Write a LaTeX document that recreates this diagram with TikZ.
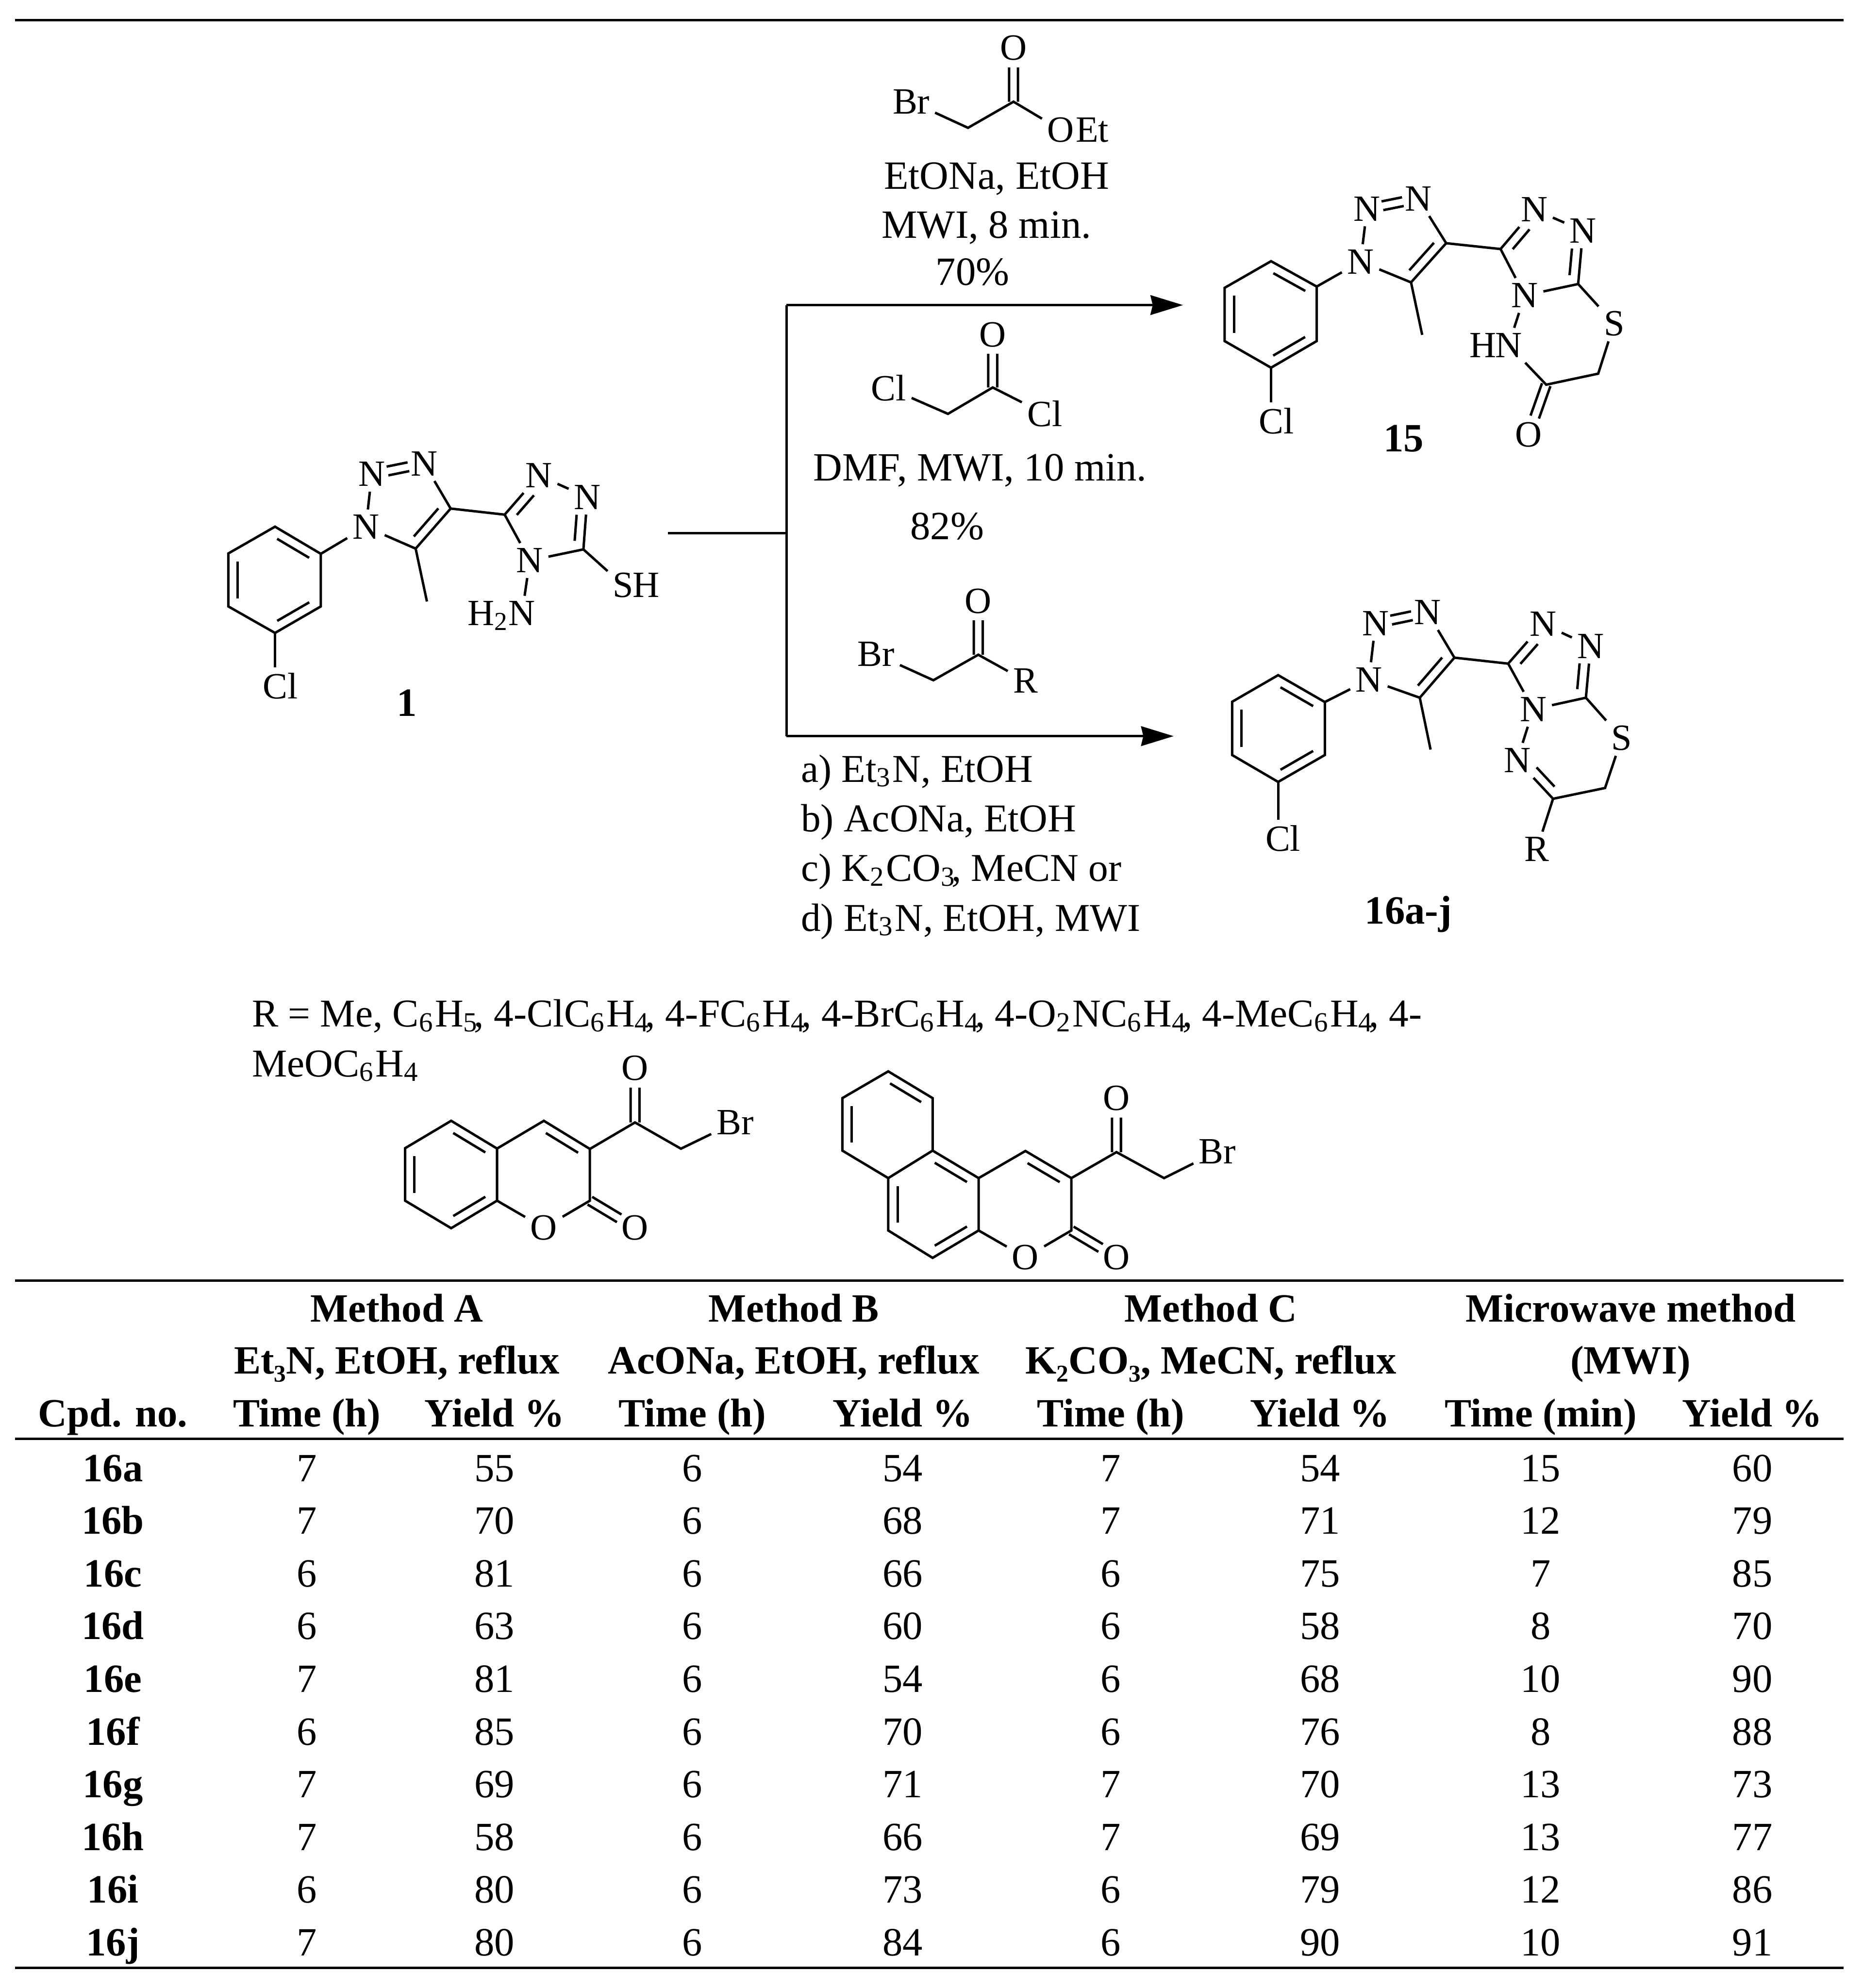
\documentclass[tikz,border=0pt]{standalone}
\usepackage{fontspec}
\setmainfont{Liberation Serif}
\usetikzlibrary{calc}
\usetikzlibrary{arrows.meta}
\tikzset{
  bond/.style={line width=.55pt},
  rulel/.style={line width=.55pt},
  arrowl/.style={line width=.55pt, -{Stealth[length=7.3pt,width=4.4pt,inset=.5pt]}},
  atom/.style={inner sep=1pt, font=\fontsize{8.3}{10}\selectfont},
  tail/.style={inner sep=0pt, font=\fontsize{8.3}{10}\selectfont},
  txt/.style={inner sep=0pt, anchor=base, font=\fontsize{9}{11}\selectfont},
  txtl/.style={inner sep=0pt, anchor=base west, font=\fontsize{8.85}{11}\selectfont},
  head/.style={inner sep=0pt, anchor=base, font=\fontsize{9}{11}\selectfont\bfseries}
}
\newcommand{\dblin}[4]{\draw[bond] ($(#1)!#3!(#2)!2.1pt!90:(#2)$) -- ($(#2)!#4!(#1)!2.1pt!-90:(#1)$);}
\newcommand{\dblout}[4]{%
  \draw[bond] ($(#1)!#3!(#2)!1pt!90:(#2)$) -- ($(#2)!#4!(#1)!1pt!-90:(#1)$);
  \draw[bond] ($(#1)!#3!(#2)!1pt!-90:(#2)$) -- ($(#2)!#4!(#1)!1pt!90:(#1)$);}
\begin{document}
\begin{tikzpicture}[x=0.01cm,y=-0.01cm]
  \useasboundingbox (0,0) rectangle (1469,1568);

  % top rule
  \coordinate (top1) at (12,16);
  \coordinate (top2) at (1454,16);
  \draw[rulel] (top1) -- (top2);

  % compound 1
  \coordinate (a1) at (216.9,415.4);
  \coordinate (a2) at (180.1,436.5);
  \coordinate (a3) at (180.1,478.3);
  \coordinate (a4) at (216.9,499.2);
  \coordinate (a5) at (253,478.3);
  \coordinate (a6) at (253,436.8);
  \node[atom] (acl) at (221,541) {Cl};
  \node[atom] (an1) at (288.6,415.6) {N};
  \node[atom] (an2) at (293.2,374) {N};
  \node[atom] (an3) at (334.5,365.6) {N};
  \coordinate (ac4) at (355.4,401.1);
  \coordinate (ac5) at (327.8,432.7);
  \coordinate (ame) at (336.7,474.4);
  \coordinate (ac6) at (398,405.9);
  \node[atom] (an4) at (424.9,375) {N};
  \node[atom] (an5) at (463.2,392.1) {N};
  \coordinate (ac7) at (460.1,433.3);
  \node[atom] (an6) at (417.8,442.1) {N};
  \node[atom] (as) at (491.5,461.5) {S};
  \node[tail,anchor=base west,xshift=-1.6pt] (ash) at (as.base east) {H};
  \node[atom] (an7) at (411.7,483.7) {N};
  \node[tail,anchor=base east,xshift=1.6pt] (ah2) at (an7.base west) {H\textsubscript{2}};
  \node[head] (alab) at (321,565) {1};

  \draw[bond] (a1) -- (a2) -- (a3) -- (a4) -- (a5) -- (a6) -- cycle;
  \dblin{a6}{a1}{.15}{.15}
  \dblin{a2}{a3}{.15}{.15}
  \dblin{a4}{a5}{.15}{.15}
  \draw[bond] (a4) -- (a4 |- acl.north);
  \draw[bond] (a6) -- (an1);
  \draw[bond] (an1) -- (an2);
  \dblout{an2}{an3}{.3}{.3}
  \draw[bond] (an3) -- (ac4);
  \draw[bond] (ac4) -- (ac5);
  \dblin{ac5}{ac4}{.15}{.15}
  \draw[bond] (ac5) -- (an1);
  \draw[bond] (ac5) -- (ame);
  \draw[bond] (ac4) -- (ac6);
  \draw[bond] (ac6) -- (an4);
  \dblin{an4}{ac6}{.35}{.15}
  \draw[bond] (an4) -- (an5);
  \draw[bond] (an5) -- (ac7);
  \dblin{ac7}{an5}{.15}{.35}
  \draw[bond] (ac7) -- (an6);
  \draw[bond] (an6) -- (ac6);
  \draw[bond] (ac7) -- (as);
  \draw[bond] (an6) -- (an7);

  % reaction lines
  \coordinate (s1) at (526.6,420.4);
  \coordinate (s2) at (620.2,420.4);
  \coordinate (s3) at (620.2,240.6);
  \coordinate (s4) at (620.2,580.6);
  \coordinate (s5) at (933,240.6);
  \coordinate (s6) at (925.6,580.6);
  \draw[bond] (s1) -- (s2);
  \draw[bond] (s3) -- (s4);
  \draw[arrowl] (s3) -- (s5);
  \draw[arrowl] (s4) -- (s6);

  % bromoacetate
  \node[atom] (do) at (799.3,37.9) {O};
  \coordinate (dc) at (799.3,80.2);
  \coordinate (dm) at (763.4,100.8);
  \node[atom] (dbr) at (718.6,80.2) {Br};
  \node[atom] (do2) at (836.5,102.4) {O};
  \node[tail,anchor=base west,xshift=-1pt] (det) at (do2.base east) {Et};
  \draw[bond] (dbr) -- (dm) -- (dc) -- (do2);
  \dblout{dc}{do}{0}{.36}
  \node[txt] (dt1) at (786,149) {EtONa, EtOH};
  \node[txt] (dt2) at (778,187.7) {MWI, 8 min.};
  \node[txt] (dt3) at (767,224.8) {70\%};

  % chloroacetyl chloride
  \node[atom] (eo) at (782.9,264) {O};
  \coordinate (ec) at (782.9,305.6);
  \coordinate (em) at (747.6,326.4);
  \node[atom] (ecl) at (700.9,306) {Cl};
  \node[atom] (ecl2) at (823.9,326.4) {Cl};
  \draw[bond] (ecl) -- (em) -- (ec) -- (ecl2);
  \dblout{ec}{eo}{0}{.36}
  \node[txt] (et1) at (773,379.3) {DMF, MWI, 10 min.};
  \node[txt] (et2) at (747,425.5) {82\%};

  % bromoketone
  \node[atom] (fo) at (771.5,474) {O};
  \coordinate (fc) at (771.5,516.4);
  \coordinate (fm) at (736.1,536.5);
  \node[atom] (fbr) at (690.9,516) {Br};
  \node[atom] (fr) at (808.7,537) {R};
  \draw[bond] (fbr) -- (fm) -- (fc) -- (fr);
  \dblout{fc}{fo}{0}{.36}
  \node[txtl] (ft1) at (631,616.7) {a) Et\textsubscript{3}N, EtOH};
  \node[txtl] (ft2) at (631,655.9) {b) AcONa, EtOH};
  \node[txtl] (ft3) at (631,695.1) {c) K\textsubscript{2}CO\textsubscript{3}\kern-1.2pt, MeCN or};
  \node[txtl] (ft4) at (631,734.3) {d) Et\textsubscript{3}N, EtOH, MWI};

  % compound 15
  \coordinate (b1) at (1002.4,206);
  \coordinate (b2) at (965.8,227);
  \coordinate (b3) at (965.8,269);
  \coordinate (b4) at (1002.4,290);
  \coordinate (b5) at (1038.4,269);
  \coordinate (b6) at (1038.4,226);
  \node[atom] (bcl) at (1006.8,331.9) {Cl};
  \node[atom] (bn1) at (1073,206.4) {N};
  \node[atom] (bn2) at (1078.1,164.7) {N};
  \node[atom] (bn3) at (1118.5,156.6) {N};
  \coordinate (bc4) at (1140.5,191.8);
  \coordinate (bc5) at (1112.8,222.7);
  \coordinate (bme) at (1121.6,264.1);
  \coordinate (bc6) at (1183.4,196.4);
  \node[atom] (bn4) at (1209.9,165.2) {N};
  \node[atom] (bn5) at (1248.4,182) {N};
  \coordinate (bc7) at (1244.6,224);
  \node[atom] (bn6) at (1202.4,233) {N};
  \node[atom] (bs) at (1273,255.2) {S};
  \coordinate (bc8) at (1260.4,294.7);
  \coordinate (bc9) at (1219.4,303.4);
  \node[atom] (bo) at (1205.5,342.7) {O};
  \node[atom] (bn7) at (1189.7,272.3) {N};
  \node[tail,anchor=base east,xshift=1.6pt] (bh) at (bn7.base west) {H};
  \node[head] (blab) at (1107,356.2) {15};

  \draw[bond] (b1) -- (b2) -- (b3) -- (b4) -- (b5) -- (b6) -- cycle;
  \dblin{b6}{b1}{.15}{.15}
  \dblin{b2}{b3}{.15}{.15}
  \dblin{b4}{b5}{.15}{.15}
  \draw[bond] (b4) -- (b4 |- bcl.north);
  \draw[bond] (b6) -- (bn1);
  \draw[bond] (bn1) -- (bn2);
  \dblout{bn2}{bn3}{.3}{.3}
  \draw[bond] (bn3) -- (bc4);
  \draw[bond] (bc4) -- (bc5);
  \dblin{bc5}{bc4}{.15}{.15}
  \draw[bond] (bc5) -- (bn1);
  \draw[bond] (bc5) -- (bme);
  \draw[bond] (bc4) -- (bc6);
  \draw[bond] (bc6) -- (bn4);
  \dblin{bn4}{bc6}{.35}{.15}
  \draw[bond] (bn4) -- (bn5);
  \draw[bond] (bn5) -- (bc7);
  \dblin{bc7}{bn5}{.15}{.35}
  \draw[bond] (bc7) -- (bn6);
  \draw[bond] (bn6) -- (bc6);
  \draw[bond] (bc7) -- (bs);
  \draw[bond] (bs) -- (bc8) -- (bc9) -- (bn7);
  \draw[bond] (bn7) -- (bn6);
  \dblout{bc9}{bo}{0}{.35}

  % compound 16
  \coordinate (c1) at (1008,532.5);
  \coordinate (c2) at (971.7,553.5);
  \coordinate (c3) at (971.7,595.5);
  \coordinate (c4) at (1008,616.7);
  \coordinate (c5) at (1044.8,595.5);
  \coordinate (c6) at (1044.8,553.7);
  \node[atom] (ccl) at (1011.8,661.2) {Cl};
  \node[atom] (cn1) at (1079.6,536.1) {N};
  \node[atom] (cn2) at (1084.8,491.6) {N};
  \node[atom] (cn3) at (1125.8,483.1) {N};
  \coordinate (cc4) at (1147,518.7);
  \coordinate (cc5) at (1119.7,550.3);
  \coordinate (cme) at (1128.2,591.2);
  \coordinate (cc6) at (1189.4,523.4);
  \node[atom] (cn4) at (1216.8,492.2) {N};
  \node[atom] (cn5) at (1254.4,509.6) {N};
  \coordinate (cc7) at (1250.7,550.3);
  \node[atom] (cn6) at (1209.2,559.4) {N};
  \node[atom] (cs) at (1279,582.1) {S};
  \coordinate (cc8) at (1265.8,621.5);
  \coordinate (cc9) at (1224.8,630);
  \node[atom] (cn7) at (1196.5,599.7) {N};
  \node[atom] (cr) at (1212,669.7) {R};
  \node[head] (clab) at (1110.7,728.5) {16a-j};

  \draw[bond] (c1) -- (c2) -- (c3) -- (c4) -- (c5) -- (c6) -- cycle;
  \dblin{c6}{c1}{.15}{.15}
  \dblin{c2}{c3}{.15}{.15}
  \dblin{c4}{c5}{.15}{.15}
  \draw[bond] (c4) -- (c4 |- ccl.north);
  \draw[bond] (c6) -- (cn1);
  \draw[bond] (cn1) -- (cn2);
  \dblout{cn2}{cn3}{.3}{.3}
  \draw[bond] (cn3) -- (cc4);
  \draw[bond] (cc4) -- (cc5);
  \dblin{cc5}{cc4}{.15}{.15}
  \draw[bond] (cc5) -- (cn1);
  \draw[bond] (cc5) -- (cme);
  \draw[bond] (cc4) -- (cc6);
  \draw[bond] (cc6) -- (cn4);
  \dblin{cn4}{cc6}{.35}{.15}
  \draw[bond] (cn4) -- (cn5);
  \draw[bond] (cn5) -- (cc7);
  \dblin{cc7}{cn5}{.15}{.35}
  \draw[bond] (cc7) -- (cn6);
  \draw[bond] (cn6) -- (cc6);
  \draw[bond] (cc7) -- (cs);
  \draw[bond] (cs) -- (cc8) -- (cc9) -- (cn7);
  \draw[bond] (cn7) -- (cn6);
  \dblin{cn7}{cc9}{.35}{.15}
  \draw[bond] (cc9) -- (cr);

  % R groups
  \node[txtl] (rl1) at (198,810) {R = Me, C\textsubscript{6}H\textsubscript{5}\kern-1.2pt, 4-ClC\textsubscript{6}H\textsubscript{4}\kern-1.2pt, 4-FC\textsubscript{6}H\textsubscript{4}\kern-1.2pt, 4-BrC\textsubscript{6}H\textsubscript{4}\kern-1.2pt, 4-O\textsubscript{2}NC\textsubscript{6}H\textsubscript{4}\kern-1.2pt, 4-MeC\textsubscript{6}H\textsubscript{4}\kern-1.2pt, 4-};
  \node[txtl] (rl2) at (198,849.3) {MeOC\textsubscript{6}H\textsubscript{4}};

  % bromoacetylcoumarin
  \coordinate (g1) at (355.8,884);
  \coordinate (g2) at (319.5,905.6);
  \coordinate (g3) at (319.5,947);
  \coordinate (g4) at (355.8,968.7);
  \coordinate (g5) at (392,947);
  \coordinate (g6) at (392,905.9);
  \coordinate (g7) at (428.9,884);
  \coordinate (g8) at (465.2,906.2);
  \coordinate (g9) at (465.2,947);
  \node[atom] (go1) at (428.9,968.4) {O};
  \node[atom] (go2) at (500.8,968.4) {O};
  \coordinate (g10) at (500.8,885.3);
  \node[atom] (go3) at (500.8,842.4) {O};
  \coordinate (g11) at (537,906);
  \node[atom] (gbr) at (579.7,885.3) {Br};

  \draw[bond] (g1) -- (g2) -- (g3) -- (g4) -- (g5) -- (g6) -- cycle;
  \dblin{g6}{g1}{.15}{.15}
  \dblin{g2}{g3}{.15}{.15}
  \dblin{g4}{g5}{.15}{.15}
  \draw[bond] (g6) -- (g7) -- (g8) -- (g9) -- (go1) -- (g5);
  \dblin{g8}{g7}{.15}{.15}
  \dblout{g9}{go2}{0}{.35}
  \draw[bond] (g8) -- (g10) -- (g11) -- (gbr);
  \dblout{g10}{go3}{0}{.36}

  % bromoacetylbenzocoumarin
  \coordinate (h1) at (700.5,845);
  \coordinate (h2) at (664.3,866.1);
  \coordinate (h3) at (664.3,907.5);
  \coordinate (h4) at (700.5,929.2);
  \coordinate (h5) at (735.5,907.5);
  \coordinate (h6) at (735.5,866.1);
  \coordinate (h7) at (700.5,970.5);
  \coordinate (h8) at (735.5,992.1);
  \coordinate (h9) at (771.8,970.5);
  \coordinate (h10) at (771.8,929.2);
  \coordinate (h11) at (808.7,907.8);
  \coordinate (h12) at (844.9,929.2);
  \coordinate (h13) at (844.9,970.5);
  \node[atom] (ho1) at (808.7,991.7) {O};
  \node[atom] (ho2) at (880.5,991.7) {O};
  \coordinate (h14) at (880.5,908.7);
  \node[atom] (ho3) at (880.5,866.1) {O};
  \coordinate (h15) at (918,929.2);
  \node[atom] (hbr) at (960,908.2) {Br};

  \draw[bond] (h1) -- (h2) -- (h3) -- (h4) -- (h5) -- (h6) -- cycle;
  \dblin{h6}{h1}{.15}{.15}
  \dblin{h2}{h3}{.15}{.15}
  \draw[bond] (h4) -- (h7) -- (h8) -- (h9) -- (h10) -- (h5);
  \dblin{h10}{h5}{.15}{.15}
  \dblin{h4}{h7}{.15}{.15}
  \dblin{h8}{h9}{.15}{.15}
  \draw[bond] (h10) -- (h11) -- (h12) -- (h13) -- (ho1) -- (h9);
  \dblin{h12}{h11}{.15}{.15}
  \dblout{h13}{ho2}{0}{.35}
  \draw[bond] (h12) -- (h14) -- (h15) -- (hbr);
  \dblout{h14}{ho3}{0}{.36}

  % table rules
  \coordinate (ru1) at (12,1010);
  \coordinate (ru2) at (1454,1010);
  \coordinate (ru3) at (12,1135);
  \coordinate (ru4) at (1454,1135);
  \coordinate (ru5) at (12,1552);
  \coordinate (ru6) at (1454,1552);
  \draw[rulel] (ru1) -- (ru2);
  \draw[rulel] (ru3) -- (ru4);
  \draw[rulel] (ru5) -- (ru6);

  % table head
  \node[head] (m1) at (313,1042.6) {Method A};
  \node[head] (m2) at (626,1042.6) {Method B};
  \node[head] (m3) at (955,1042.6) {Method C};
  \node[head] (m4) at (1286,1042.6) {Microwave method};
  \node[head] (n1) at (313,1083.7) {Et₃N, EtOH, reflux};
  \node[head] (n2) at (626,1083.7) {AcONa, EtOH, reflux};
  \node[head] (n3) at (955,1083.7) {K₂CO₃, MeCN, reflux};
  \node[head] (n4) at (1286,1083.7) {(MWI)};
  \node[head] (p0) at (89,1125.4) {Cpd. no.};
  \node[head] (p1) at (242,1125.4) {Time (h)};
  \node[head] (p2) at (390,1125.4) {Yield \%};
  \node[head] (p3) at (546,1125.4) {Time (h)};
  \node[head] (p4) at (712,1125.4) {Yield \%};
  \node[head] (p5) at (876,1125.4) {Time (h)};
  \node[head] (p6) at (1041,1125.4) {Yield \%};
  \node[head] (p7) at (1215,1125.4) {Time (min)};
  \node[head] (p8) at (1382,1125.4) {Yield \%};

  % table rows
  \node[head] (a0) at (89,1168.5) {16a}; \node[txt] (ta1) at (242,1168.5) {7}; \node[txt] (ta2) at (390,1168.5) {55}; \node[txt] (ta3) at (546,1168.5) {6}; \node[txt] (ta4) at (712,1168.5) {54}; \node[txt] (ta5) at (876,1168.5) {7}; \node[txt] (ta6) at (1041,1168.5) {54}; \node[txt] (ta7) at (1215,1168.5) {15}; \node[txt] (ta8) at (1382,1168.5) {60};
  \node[head] (b0) at (89,1210) {16b}; \node[txt] (tb1) at (242,1210) {7}; \node[txt] (tb2) at (390,1210) {70}; \node[txt] (tb3) at (546,1210) {6}; \node[txt] (tb4) at (712,1210) {68}; \node[txt] (tb5) at (876,1210) {7}; \node[txt] (tb6) at (1041,1210) {71}; \node[txt] (tb7) at (1215,1210) {12}; \node[txt] (tb8) at (1382,1210) {79};
  \node[head] (c0) at (89,1251.6) {16c}; \node[txt] (tc1) at (242,1251.6) {6}; \node[txt] (tc2) at (390,1251.6) {81}; \node[txt] (tc3) at (546,1251.6) {6}; \node[txt] (tc4) at (712,1251.6) {66}; \node[txt] (tc5) at (876,1251.6) {6}; \node[txt] (tc6) at (1041,1251.6) {75}; \node[txt] (tc7) at (1215,1251.6) {7}; \node[txt] (tc8) at (1382,1251.6) {85};
  \node[head] (d0) at (89,1293.1) {16d}; \node[txt] (td1) at (242,1293.1) {6}; \node[txt] (td2) at (390,1293.1) {63}; \node[txt] (td3) at (546,1293.1) {6}; \node[txt] (td4) at (712,1293.1) {60}; \node[txt] (td5) at (876,1293.1) {6}; \node[txt] (td6) at (1041,1293.1) {58}; \node[txt] (td7) at (1215,1293.1) {8}; \node[txt] (td8) at (1382,1293.1) {70};
  \node[head] (e0) at (89,1334.7) {16e}; \node[txt] (te1) at (242,1334.7) {7}; \node[txt] (te2) at (390,1334.7) {81}; \node[txt] (te3) at (546,1334.7) {6}; \node[txt] (te4) at (712,1334.7) {54}; \node[txt] (te5) at (876,1334.7) {6}; \node[txt] (te6) at (1041,1334.7) {68}; \node[txt] (te7) at (1215,1334.7) {10}; \node[txt] (te8) at (1382,1334.7) {90};
  \node[head] (f0) at (89,1376.2) {16f}; \node[txt] (tf1) at (242,1376.2) {6}; \node[txt] (tf2) at (390,1376.2) {85}; \node[txt] (tf3) at (546,1376.2) {6}; \node[txt] (tf4) at (712,1376.2) {70}; \node[txt] (tf5) at (876,1376.2) {6}; \node[txt] (tf6) at (1041,1376.2) {76}; \node[txt] (tf7) at (1215,1376.2) {8}; \node[txt] (tf8) at (1382,1376.2) {88};
  \node[head] (g0) at (89,1417.8) {16g}; \node[txt] (tg1) at (242,1417.8) {7}; \node[txt] (tg2) at (390,1417.8) {69}; \node[txt] (tg3) at (546,1417.8) {6}; \node[txt] (tg4) at (712,1417.8) {71}; \node[txt] (tg5) at (876,1417.8) {7}; \node[txt] (tg6) at (1041,1417.8) {70}; \node[txt] (tg7) at (1215,1417.8) {13}; \node[txt] (tg8) at (1382,1417.8) {73};
  \node[head] (h0) at (89,1459.3) {16h}; \node[txt] (th1) at (242,1459.3) {7}; \node[txt] (th2) at (390,1459.3) {58}; \node[txt] (th3) at (546,1459.3) {6}; \node[txt] (th4) at (712,1459.3) {66}; \node[txt] (th5) at (876,1459.3) {7}; \node[txt] (th6) at (1041,1459.3) {69}; \node[txt] (th7) at (1215,1459.3) {13}; \node[txt] (th8) at (1382,1459.3) {77};
  \node[head] (i0) at (89,1500.9) {16i}; \node[txt] (ti1) at (242,1500.9) {6}; \node[txt] (ti2) at (390,1500.9) {80}; \node[txt] (ti3) at (546,1500.9) {6}; \node[txt] (ti4) at (712,1500.9) {73}; \node[txt] (ti5) at (876,1500.9) {6}; \node[txt] (ti6) at (1041,1500.9) {79}; \node[txt] (ti7) at (1215,1500.9) {12}; \node[txt] (ti8) at (1382,1500.9) {86};
  \node[head] (j0) at (89,1542.4) {16j}; \node[txt] (tj1) at (242,1542.4) {7}; \node[txt] (tj2) at (390,1542.4) {80}; \node[txt] (tj3) at (546,1542.4) {6}; \node[txt] (tj4) at (712,1542.4) {84}; \node[txt] (tj5) at (876,1542.4) {6}; \node[txt] (tj6) at (1041,1542.4) {90}; \node[txt] (tj7) at (1215,1542.4) {10}; \node[txt] (tj8) at (1382,1542.4) {91};
\end{tikzpicture}
\end{document}
